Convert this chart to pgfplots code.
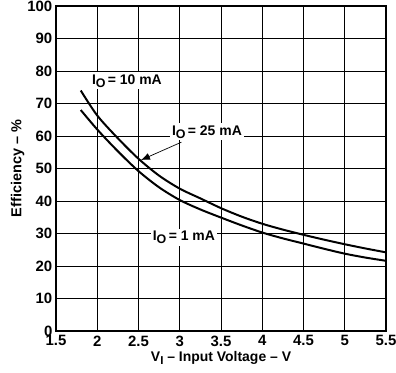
\documentclass[border=0pt]{standalone}
\usepackage{pgfplots}
\pgfplotsset{compat=1.18}
\usetikzlibrary{arrows.meta}
\usepackage{fontspec}
\setmainfont{Liberation Sans}
\newcommand{\lbl}[1]{I\raisebox{-0.4ex}{\fontsize{12.5}{12}\selectfont O}\,= #1}
\begin{document}
\begin{tikzpicture}
\begin{axis}[
  scale only axis,
  width=330bp, height=325bp,
  xmin=1.5, xmax=5.5, ymin=0, ymax=100,
  xtick={1.5,2,...,5.5},
  ytick={0,10,...,100},
  xticklabels={1.5,2,2.5,3,3.5,4,4.5,5,5.5},
  grid=major,
  grid style={black, line width=0.6pt},
  axis line style={black, line width=1.2pt},
  tick style={draw=none},
  /pgf/number format/assume math mode=true,
  ticklabel style={font=\fontsize{15}{16}\selectfont\bfseries, inner sep=0.5pt},
  xticklabel style={yshift=-4pt},
  yticklabel style={xshift=-3pt},
  xlabel style={font=\fontsize{14}{16}\selectfont\bfseries, yshift=-1pt},
  ylabel style={font=\fontsize{14.5}{16}\selectfont\bfseries, yshift=-1pt},
  xlabel={V\raisebox{-0.4ex}{\fontsize{11.5}{12}\selectfont I} -- Input Voltage -- V},
  ylabel={Efficiency -- \%},
]
\addplot[black, line width=2pt, smooth] coordinates {
 (1.8,74) (2,66.3) (2.25,59.3) (2.5,53) (2.75,47.8) (3,43.8) (3.25,40.8) (3.5,37.8) (3.75,35.2) (4,33) (4.25,31.2) (4.5,29.6) (4.75,28.1) (5,26.7) (5.25,25.4) (5.5,24.2)
};
\addplot[black, line width=2pt, smooth] coordinates {
 (1.8,68) (2,62) (2.25,55.3) (2.5,49.2) (2.75,44.2) (3,40.3) (3.25,37.4) (3.5,34.9) (3.75,32.5) (4,30.3) (4.25,28.5) (4.5,26.9) (4.75,25.3) (5,23.8) (5.25,22.6) (5.5,21.6)
};
\node[fill=white, inner sep=2pt, font=\fontsize{14}{15}\selectfont\bfseries] at (axis cs:2.36,77) {\lbl{10 mA}};
\node[fill=white, inner sep=2pt, font=\fontsize{14}{15}\selectfont\bfseries] at (axis cs:3.33,61.3) {\lbl{25 mA}};
\node[fill=white, inner sep=2pt, font=\fontsize{14}{15}\selectfont\bfseries] at (axis cs:3.05,28.8) {\lbl{1 mA}};
\draw[-{Latex[length=9pt,width=7pt]}, black, line width=0.7pt] (axis cs:3.02,58.1) -- (axis cs:2.53,52.6);
\end{axis}
\pgfresetboundingbox
\path ([shift={(-56bp,-41bp)}]current axis.south west) rectangle ([shift={(10bp,6bp)}]current axis.north east);
\end{tikzpicture}
\end{document}
